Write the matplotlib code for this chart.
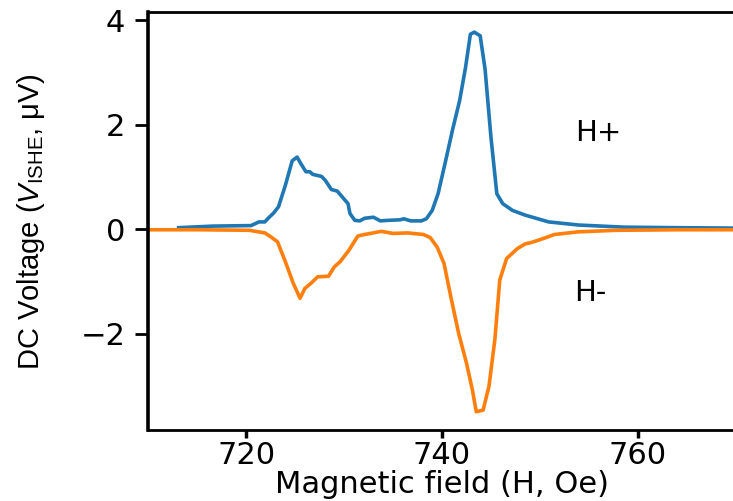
import numpy as np
import matplotlib
matplotlib.use('Agg')
import matplotlib.pyplot as plt

# H+ sweep (blue)
field_plus = [713.1, 716.6, 720.5, 721.3, 721.9, 722.3, 722.8, 723.3, 724.0, 724.7,
              725.2, 725.6, 726.1, 726.5, 726.8, 727.7, 728.1, 728.7, 729.3, 729.8,
              730.4, 730.6, 731.1, 731.6, 732.1, 733.0, 733.7, 734.5, 735.7, 736.1,
              736.8, 737.9, 738.4, 739.0, 739.6, 740.3, 741.1, 741.8, 742.4, 742.9,
              743.3, 743.9, 744.4, 745.0, 745.6, 746.2, 747.2, 748.5, 750.9, 754.0,
              758.6, 764.0, 771.0]
v_plus = [0.03, 0.06, 0.07, 0.14, 0.14, 0.22, 0.31, 0.43, 0.84, 1.31,
          1.38, 1.25, 1.10, 1.10, 1.05, 1.01, 0.93, 0.76, 0.73, 0.62,
          0.49, 0.30, 0.17, 0.16, 0.21, 0.23, 0.16, 0.17, 0.18, 0.20,
          0.16, 0.16, 0.20, 0.36, 0.68, 1.25, 1.92, 2.46, 3.09, 3.73,
          3.77, 3.70, 3.06, 1.76, 0.68, 0.49, 0.36, 0.27, 0.14, 0.08,
          0.04, 0.03, 0.02]

# H- sweep (orange)
field_minus = [709.6, 715.3, 720.3, 721.9, 722.4, 723.2, 724.0, 724.8, 725.5, 726.0,
               726.7, 727.3, 728.4, 729.0, 729.6, 730.5, 731.4, 732.1, 732.7, 733.8,
               735.0, 736.5, 738.1, 738.8, 739.5, 740.2, 740.9, 741.7, 742.5, 743.1,
               743.5, 744.2, 744.8, 745.4, 745.9, 746.6, 747.7, 748.5, 749.0, 750.0,
               751.5, 753.9, 757.8, 764.0, 771.0]
v_minus = [-0.01, -0.01, -0.02, -0.07, -0.13, -0.24, -0.62, -1.03, -1.32, -1.13,
           -1.02, -0.91, -0.90, -0.72, -0.62, -0.40, -0.13, -0.10, -0.08, -0.04,
           -0.08, -0.07, -0.10, -0.16, -0.34, -0.65, -1.29, -1.99, -2.56, -3.07,
           -3.49, -3.46, -3.00, -2.11, -0.97, -0.56, -0.37, -0.28, -0.26, -0.20,
           -0.10, -0.05, -0.02, -0.01, -0.01]

fontsize_value = 22

plt.rcParams['mathtext.fontset'] = 'custom'
plt.rcParams['mathtext.rm'] = 'Liberation Sans'
plt.rcParams['mathtext.it'] = 'Liberation Sans:italic'

fig = plt.figure(figsize=(7.33, 5.01), dpi=100)
ax = fig.add_axes([0.2023, 0.1417, 0.8014, 0.8338])

ax.plot(field_plus, v_plus, color='#1f77b4', lw=2.6)
ax.plot(field_minus, v_minus, color='#ff7f0e', lw=2.6)

ax.text(753.6, 1.84, 'H+', fontsize=21, va='center', ha='left')
ax.text(753.5, -1.22, 'H-', fontsize=21, va='center', ha='left')

ax.set_xlim(710, 770)
ax.set_ylim(-3.84, 4.15)
ax.set_xticks([720, 740, 760])
ax.set_yticks([-2, 0, 2, 4])

ax.set_xlabel('Magnetic field (H, Oe)', fontsize=22, labelpad=0)
ax.set_ylabel(r'DC Voltage ($V_{\mathrm{ISHE}}$, μV)', fontsize=21,
              family=['Liberation Sans', 'DejaVu Sans'])
ax.yaxis.set_label_coords(-0.1716, 0.5)

ax.spines['right'].set_visible(False)
ax.spines['left'].set_linewidth(2.6)
ax.spines['top'].set_linewidth(2.0)
ax.spines['bottom'].set_linewidth(2.0)
ax.tick_params(axis='x', labelsize=fontsize_value, width=2.5, length=6, pad=2)
ax.tick_params(axis='y', labelsize=fontsize_value, width=2.0, length=9.5, pad=7)

fig.savefig('out.png', dpi=100)
